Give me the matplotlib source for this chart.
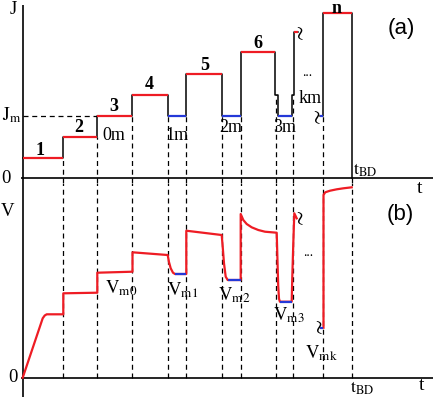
import matplotlib
matplotlib.use("Agg")
import matplotlib.pyplot as plt

plt.rcParams["font.family"] = ["Liberation Serif", "DejaVu Serif"]
plt.rcParams["mathtext.fontset"] = "stix"

RED = "#ee1c24"
BLUE = "#2438d8"
DASH = (0, (4, 3))

# (a) current protocol, J in units of Jm
step_t = [0, 4.06, 7.46, 10.98, 14.5, 16.36, 19.9, 21.8, 25.26, 25.56, 26.9, 27.16, 27.56]
step_J = [0.32, 0.66, 1.0, 1.34, 1.0, 1.68, 1.0, 2.02, 1.34, 1.0, 1.34, 2.35]
step_kind = ["up", "up", "up", "up", "hold", "up", "hold", "up", "edge", "hold", "edge", "up"]
last_t = [29.76, 30.08, 32.9]
last_J = [1.0, 2.65]
last_kind = ["hold", "up"]

# dashed guides: switching times and the level they hang from in (a)
guide_t = [4.06, 7.46, 10.98, 14.5, 16.36, 19.9, 21.8, 25.36, 27.06, 30.08, 32.9]
guide_J = [0.32, 0.66, 1.0, 1.0, 1.0, 1.0, 1.0, 1.34, 1.34, 1.0, 0.0]

# (b) voltage response
volt_t = [0, 2.0, 2.2, 2.4, 4.06,
          4.06, 7.46,
          7.46, 10.98,
          10.98, 14.5, 14.62, 14.8, 15.03, 15.23,
          16.36, 16.36, 19.9, 20.0, 20.13, 20.3, 20.5,
          21.8, 21.8, 22.06, 22.4, 22.9, 23.56, 24.23, 25.4, 25.47, 25.55, 25.63, 25.72,
          26.9, 26.96, 27.06, 27.16, 27.4]
volt_V = [0, 0.594, 0.622, 0.634, 0.634,
          0.844, 0.85,
          1.05, 1.06,
          1.254, 1.227, 1.16, 1.094, 1.05, 1.037,
          1.037, 1.47, 1.427, 1.31, 1.144, 1.01, 0.977,
          0.977, 1.637, 1.577, 1.537, 1.504, 1.477, 1.46, 1.45, 1.2, 0.92, 0.79, 0.76,
          0.76, 1.01, 1.344, 1.644, 1.594]
last_vt = [30.08, 30.08, 30.25, 30.73, 31.4, 32.06, 32.9]
last_vV = [0.5, 1.827, 1.854, 1.87, 1.884, 1.894, 1.904]
hold_t0 = [15.23, 20.5, 25.72, 29.76]
hold_t1 = [16.36, 21.8, 26.9, 30.08]
hold_V = [1.037, 0.977, 0.76, 0.5]

step_names = ["1", "2", "3", "4", "5", "6", "n"]
hold_names = ["0m", "1m", "2m", "3m", "km"]
vm_names = ["m0", "m1", "m2", "m3", "mk"]


def outline(ts, levels):
    xs, ys = [], []
    for i, lv in enumerate(levels):
        xs += [ts[i], ts[i + 1]]
        ys += [lv, lv]
    return xs, ys


def colour_runs(ax, ts, levels, kinds):
    for i, lv in enumerate(levels):
        if kinds[i] == "edge":
            continue
        c = RED if kinds[i] == "up" else BLUE
        ax.plot([ts[i], ts[i + 1]], [lv, lv], color=c, lw=1.6, zorder=3,
                solid_capstyle="butt")


fig = plt.figure(figsize=(4.33, 3.97), dpi=100)
ax_a = fig.add_axes([0, 0.539, 1, 0.461])
ax_b = fig.add_axes([0, 0, 1, 0.539])
for ax in (ax_a, ax_b):
    ax.set_xlim(-2.27, 41.03)
    ax.axis("off")
ax_a.set_ylim(-0.0754, 2.862)
ax_b.set_ylim(-0.193, 1.947)
xr = ax_a.get_xlim()[1]

# ---- panel (a)
ya0, ya1 = ax_a.get_ylim()
ax_a.vlines(0, ya0, 2.78, color="k", lw=1.2)
ax_a.hlines(0, -0.2, xr, color="k", lw=1.2)
xs, ys = outline(step_t, step_J)
ax_a.plot(xs, ys, color="k", lw=1.1, zorder=2)
xs, ys = outline(last_t, last_J)
ax_a.plot(xs + [last_t[-1]], ys + [0], color="k", lw=1.1, zorder=2)
colour_runs(ax_a, step_t, step_J, step_kind)
colour_runs(ax_a, last_t, last_J, last_kind)
ax_a.vlines(guide_t, ya0, guide_J, color="k", lw=0.9, linestyles=DASH, zorder=1)
ax_a.hlines(1.0, 0, step_t[2], color="k", lw=0.9, linestyles=DASH, zorder=1)

ax_a.text(-0.92, 2.71, "J", fontsize=13.5, ha="center", va="center")
ax_a.text(-2.1, 0.93, r"$\mathrm{J}_\mathrm{m}$", fontsize=13.5, ha="left", va="baseline")
ax_a.text(-1.67, -0.01, "0", fontsize=13.5, ha="center", va="center", clip_on=False)

step_pos = [(1.73, 0.454), (5.63, 0.815), (9.13, 1.16), (12.63, 1.50),
            (18.23, 1.81), (23.53, 2.17)]
for name, (x, y) in zip(step_names, step_pos):
    ax_a.text(x, y, name, fontsize=13, fontweight="bold", ha="center", va="center")
ax_a.text(31.4, ya1, step_names[-1], fontsize=13, fontweight="bold",
          ha="center", va="top")
hold_pos = [(9.08, 0.695), (15.4, 0.695), (20.81, 0.815), (26.18, 0.815), (28.7, 1.28)]
for name, (x, y) in zip(hold_names, hold_pos):
    ax_a.text(x, y, name, fontsize=13, ha="center", va="center")
ax_a.text(28.48, 1.7, "...", fontsize=10, ha="center", va="center")
ax_a.text(27.73, 2.30, r"$\wr$", fontsize=16, ha="center", va="center")
ax_a.text(29.4, 0.96, r"$\wr$", fontsize=16, ha="center", va="center")
ax_a.text(33.03, 0.053, r"$\mathrm{t}_\mathrm{BD}$", fontsize=13, ha="left", va="baseline")
ax_a.text(39.68, -0.17, "t", fontsize=14, ha="center", va="center", clip_on=False)
ax_a.text(37.88, 2.41, "(a)", fontsize=16, family="Liberation Sans",
          ha="center", va="center")

# ---- panel (b)
yb0, yb1 = ax_b.get_ylim()
ax_b.vlines(0, yb0, yb1, color="k", lw=1.2)
ax_b.hlines(0, -0.2, xr, color="k", lw=1.2)
ax_b.vlines(guide_t, 0, yb1, color="k", lw=0.9, linestyles=DASH, zorder=1)
ax_b.plot(volt_t, volt_V, color=RED, lw=1.6, zorder=3)
ax_b.plot(last_vt, last_vV, color=RED, lw=1.6, zorder=3)
ax_b.hlines(hold_V, hold_t0, hold_t1, color=BLUE, lw=1.6, zorder=4)

ax_b.text(-1.52, 1.667, "V", fontsize=13.5, ha="center", va="center")
ax_b.text(-0.97, 0, "0", fontsize=13.5, ha="center", va="center")
vm_pos = [(8.23, 0.994), (14.4, 0.977), (19.53, 0.927), (25.03, 0.727), (28.23, 0.34)]
for name, (x, y) in zip(vm_names, vm_pos):
    ax_b.text(x, y, r"$\mathrm{V}_\mathrm{%s}$" % name, fontsize=13.5, ha="left", va="top")
ax_b.text(28.53, 1.25, "...", fontsize=10, ha="center", va="center")
ax_b.text(27.73, 1.577, r"$\wr$", fontsize=16, ha="center", va="center")
ax_b.text(29.56, 0.49, r"$\wr$", fontsize=16, ha="center", va="center")
ax_b.text(32.73, -0.023, r"$\mathrm{t}_\mathrm{BD}$", fontsize=13, ha="left", va="top")
ax_b.text(39.93, -0.078, "t", fontsize=14, ha="center", va="center")
ax_b.text(37.73, 1.637, "(b)", fontsize=16, family="Liberation Sans",
          ha="center", va="center")

fig.savefig("out.png", dpi=100)
